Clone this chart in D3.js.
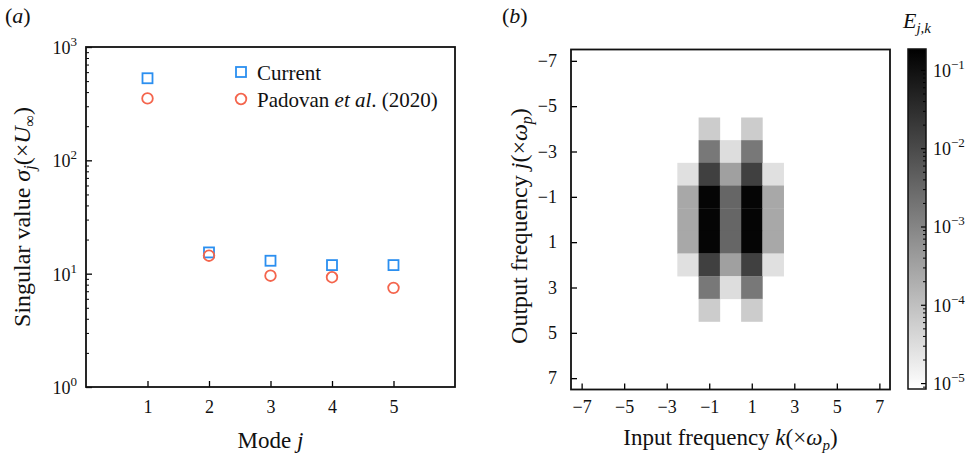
<!DOCTYPE html>
<html>
<head>
<meta charset="utf-8">
<script src="https://cdn.jsdelivr.net/npm/d3@7"></script>
<style>
  body { margin: 0; background: #fff; }
  text { font-family: "Liberation Serif", "Times New Roman", serif; fill: #111; }
</style>
</head>
<body>
<div id="chart"></div>
<script>
// ---- data ----
const modes = [1, 2, 3, 4, 5];
const currentSigma = [530, 15.4, 13.0, 11.9, 11.9];
const padovanSigma = [352, 14.4, 9.6, 9.3, 7.5];
const sigmaTicks = [1, 10, 100, 1000];

const inputFreq = [-2, -1, 0, 1, 2];
const outputFreq = [-4, -3, -2, -1, 0, 1, 2, 3, 4];
// energy E_{j,k}; rows = output frequency j, cols = input frequency k (null = below range)
const energy = [
  [null,   6.2e-5, null,   6.2e-5, null],
  [null,   1.7e-3, 3.2e-5, 1.7e-3, null],
  [2.8e-5, 1.5e-2, 3.5e-4, 1.5e-2, 2.8e-5],
  [2.5e-4, 0.15,   3.4e-3, 0.15,   2.5e-4],
  [2.5e-4, 0.15,   3.4e-3, 0.15,   2.5e-4],
  [2.5e-4, 0.15,   3.4e-3, 0.15,   2.5e-4],
  [2.8e-5, 1.5e-2, 3.5e-4, 1.5e-2, 2.8e-5],
  [null,   1.7e-3, 3.2e-5, 1.7e-3, null],
  [null,   6.2e-5, null,   6.2e-5, null]
];
const freqTicks = [-7, -5, -3, -1, 1, 3, 5, 7];
const cbarTicks = [1e-5, 1e-4, 1e-3, 1e-2, 1e-1];
const cbarMin = 8.4e-6, cbarMax = 0.185;

const W = 971, H = 458;
const svg = d3.select("#chart").append("svg")
    .attr("width", W).attr("height", H);
svg.append("rect").attr("width", W).attr("height", H).attr("fill", "#fff");

// helper: minor ticks of a log axis
function logMinors(lo, hi) {
  const out = [];
  for (let e = Math.floor(Math.log10(lo)); e <= Math.ceil(Math.log10(hi)); e++) {
    for (let m = 2; m <= 9; m++) {
      const v = m * Math.pow(10, e);
      if (v > lo && v < hi) out.push(v);
    }
  }
  return out;
}
// helper: 10^n label
function powLabel(g, x, y, exp, anchor) {
  const t = g.append("text").attr("x", x).attr("y", y)
      .attr("text-anchor", anchor).style("font-size", "18px");
  t.append("tspan").text("10");
  t.append("tspan").attr("dy", -8).style("font-size", "13px")
      .text(exp < 0 ? "\u2212" + (-exp) : exp);
}

// ================= panel (a) =================
const a = { x0: 86, x1: 455, y0: 47, y1: 387 };
const x = d3.scaleLinear().domain([0, 6]).range([a.x0, a.x1]);
const y = d3.scaleLog().domain([1, 1000]).range([a.y1, a.y0]);

const ga = svg.append("g");

// left axis (inward ticks), major + minor
ga.append("g").attr("transform", `translate(${a.x0},0)`)
    .call(d3.axisLeft(y).tickValues(sigmaTicks).tickSize(-6).tickFormat(""))
    .call(g => g.select(".domain").remove())
    .selectAll("line").attr("stroke-width", 1.3);
ga.append("g").attr("transform", `translate(${a.x0},0)`)
    .call(d3.axisLeft(y).tickValues(logMinors(1, 1000)).tickSize(-3).tickFormat(""))
    .call(g => g.select(".domain").remove())
    .selectAll("line").attr("stroke-width", 1);
sigmaTicks.forEach(v => powLabel(ga, 77, y(v) + 7, Math.round(Math.log10(v)), "end"));

// bottom axis
ga.append("g").attr("transform", `translate(0,${a.y1})`)
    .call(d3.axisBottom(x).tickValues(modes).tickSize(-6).tickPadding(13).tickFormat(d3.format("d")))
    .call(g => g.select(".domain").remove())
    .call(g => g.selectAll("line").attr("stroke-width", 1.3))
    .selectAll("text").style("font-size", "18px").style("font-family", "Liberation Serif").attr("fill", "#111");

// frame
ga.append("rect").attr("x", a.x0).attr("y", a.y0)
    .attr("width", a.x1 - a.x0).attr("height", a.y1 - a.y0)
    .attr("fill", "none").attr("stroke", "#111").attr("stroke-width", 1.8);

// markers
const blue = "#2b8ff0", red = "#f4654d";
ga.selectAll("rect.cur").data(modes).enter().append("rect")
    .attr("class", "cur")
    .attr("x", (d, i) => x(d) - 5).attr("y", (d, i) => y(currentSigma[i]) - 5)
    .attr("width", 10).attr("height", 10)
    .attr("fill", "none").attr("stroke", blue).attr("stroke-width", 1.8);
ga.selectAll("circle.pad").data(modes).enter().append("circle")
    .attr("class", "pad")
    .attr("cx", d => x(d)).attr("cy", (d, i) => y(padovanSigma[i]))
    .attr("r", 5.3)
    .attr("fill", "none").attr("stroke", red).attr("stroke-width", 1.8);

// legend
ga.append("rect").attr("x", 236).attr("y", 67).attr("width", 10).attr("height", 10)
    .attr("fill", "none").attr("stroke", blue).attr("stroke-width", 1.8);
ga.append("text").attr("x", 257).attr("y", 80).style("font-size", "21px").text("Current");
ga.append("circle").attr("cx", 241).attr("cy", 99).attr("r", 5.3)
    .attr("fill", "none").attr("stroke", red).attr("stroke-width", 1.8);
const lt = ga.append("text").attr("x", 257).attr("y", 107).style("font-size", "21px");
lt.append("tspan").text("Padovan ");
lt.append("tspan").style("font-style", "italic").text("et al");
lt.append("tspan").text(". (2020)");

// axis titles
const xt = ga.append("text").attr("x", (a.x0 + a.x1) / 2).attr("y", 448)
    .attr("text-anchor", "middle").style("font-size", "23px");
xt.append("tspan").text("Mode ");
xt.append("tspan").style("font-style", "italic").text("j");

const yt = ga.append("text").attr("transform", `translate(30,${(a.y0 + a.y1) / 2}) rotate(-90)`)
    .attr("text-anchor", "middle").style("font-size", "24px");
yt.append("tspan").text("Singular value ");
yt.append("tspan").style("font-style", "italic").text("\u03c3");
yt.append("tspan").style("font-style", "italic").style("font-size", "16px").attr("dy", 5).text("j");
yt.append("tspan").attr("dy", -5).text("(\u00d7");
yt.append("tspan").style("font-style", "italic").text("U");
yt.append("tspan").style("font-size", "16px").attr("dy", 5).text("\u221e");
yt.append("tspan").attr("dy", -5).text(")");

const ta = ga.append("text").attr("x", 5).attr("y", 23).style("font-size", "22px");
ta.append("tspan").text("(");
ta.append("tspan").style("font-style", "italic").text("a");
ta.append("tspan").text(")");

// ================= panel (b) =================
const b = { x0: 571, x1: 890, y0: 49.5, y1: 389.5 };
const hx = d3.scaleLinear().domain([-7.5, 7.5]).range([b.x0, b.x1]);
const hy = d3.scaleLinear().domain([-7.5, 7.5]).range([b.y0, b.y1]);
const color = d3.scaleSequentialLog([cbarMin, cbarMax], d3.interpolateRgb("#ffffff", "#000000")).clamp(true);

const gb = svg.append("g");

const cells = [];
outputFreq.forEach((j, r) => inputFreq.forEach((k, c) => {
  if (energy[r][c] != null) cells.push({ j, k, v: energy[r][c] });
}));
gb.selectAll("rect.cell").data(cells).enter().append("rect")
    .attr("class", "cell")
    .attr("x", d => hx(d.k - 0.5)).attr("y", d => hy(d.j - 0.5))
    .attr("width", d => hx(d.k + 0.5) - hx(d.k - 0.5) + 0.3)
    .attr("height", d => hy(d.j + 0.5) - hy(d.j - 0.5) + 0.3)
    .attr("fill", d => color(d.v));

gb.append("g").attr("transform", `translate(${b.x0},0)`)
    .call(d3.axisLeft(hy).tickValues(freqTicks).tickSize(-6).tickPadding(14))
    .call(g => g.select(".domain").remove())
    .call(g => g.selectAll("line").attr("stroke-width", 1.3))
    .selectAll("text").style("font-size", "18px").style("font-family", "Liberation Serif").attr("fill", "#111");
gb.append("g").attr("transform", `translate(0,${b.y1})`)
    .call(d3.axisBottom(hx).tickValues(freqTicks).tickSize(-6).tickPadding(11))
    .call(g => g.select(".domain").remove())
    .call(g => g.selectAll("line").attr("stroke-width", 1.3))
    .selectAll("text").style("font-size", "18px").style("font-family", "Liberation Serif").attr("fill", "#111");

gb.append("rect").attr("x", b.x0).attr("y", b.y0)
    .attr("width", b.x1 - b.x0).attr("height", b.y1 - b.y0)
    .attr("fill", "none").attr("stroke", "#111").attr("stroke-width", 1.8);

const xt2 = gb.append("text").attr("x", (b.x0 + b.x1) / 2).attr("y", 445)
    .attr("text-anchor", "middle").style("font-size", "23px");
xt2.append("tspan").text("Input frequency ");
xt2.append("tspan").style("font-style", "italic").text("k");
xt2.append("tspan").text("(\u00d7");
xt2.append("tspan").style("font-style", "italic").text("\u03c9");
xt2.append("tspan").style("font-style", "italic").style("font-size", "15px").attr("dy", 5).text("p");
xt2.append("tspan").attr("dy", -5).text(")");

const yt2 = gb.append("text").attr("transform", `translate(527,226) rotate(-90)`)
    .attr("text-anchor", "middle").style("font-size", "24px");
yt2.append("tspan").text("Output frequency ");
yt2.append("tspan").style("font-style", "italic").text("j");
yt2.append("tspan").text("(\u00d7");
yt2.append("tspan").style("font-style", "italic").text("\u03c9");
yt2.append("tspan").style("font-style", "italic").style("font-size", "16px").attr("dy", 5).text("p");
yt2.append("tspan").attr("dy", -5).text(")");

const tb = gb.append("text").attr("x", 502).attr("y", 23).style("font-size", "22px");
tb.append("tspan").text("(");
tb.append("tspan").style("font-style", "italic").text("b");
tb.append("tspan").text(")");

// ---- colorbar ----
const cb = { x0: 908, x1: 926, y0: 49, y1: 389 };
const cy = d3.scaleLog().domain([cbarMin, cbarMax]).range([cb.y1, cb.y0]);
const grad = svg.append("defs").append("linearGradient")
    .attr("id", "cbar").attr("x1", 0).attr("y1", 1).attr("x2", 0).attr("y2", 0);
d3.range(0, 1.0001, 0.1).forEach(t => {
  grad.append("stop").attr("offset", t)
      .attr("stop-color", color(Math.pow(10, Math.log10(cbarMin) + t * (Math.log10(cbarMax) - Math.log10(cbarMin)))));
});
gb.append("rect").attr("x", cb.x0).attr("y", cb.y0)
    .attr("width", cb.x1 - cb.x0).attr("height", cb.y1 - cb.y0)
    .attr("fill", "url(#cbar)");
gb.append("g").attr("transform", `translate(${cb.x1},0)`)
    .call(d3.axisRight(cy).tickValues(cbarTicks).tickSize(-5).tickFormat(""))
    .call(g => g.select(".domain").remove())
    .selectAll("line").attr("stroke-width", 1.2);
gb.append("g").attr("transform", `translate(${cb.x1},0)`)
    .call(d3.axisRight(cy).tickValues(logMinors(cbarMin, cbarMax)).tickSize(-3).tickFormat(""))
    .call(g => g.select(".domain").remove())
    .selectAll("line").attr("stroke-width", 1);
gb.append("rect").attr("x", cb.x0).attr("y", cb.y0)
    .attr("width", cb.x1 - cb.x0).attr("height", cb.y1 - cb.y0)
    .attr("fill", "none").attr("stroke", "#111").attr("stroke-width", 1.5);
cbarTicks.forEach(v => powLabel(gb, 933, cy(v) + 7, Math.round(Math.log10(v)), "start"));

const et = gb.append("text").attr("x", 903).attr("y", 28).style("font-size", "22px");
et.append("tspan").style("font-style", "italic").text("E");
et.append("tspan").style("font-style", "italic").style("font-size", "15px").attr("dy", 5).text("j,k");
</script>
</body>
</html>
